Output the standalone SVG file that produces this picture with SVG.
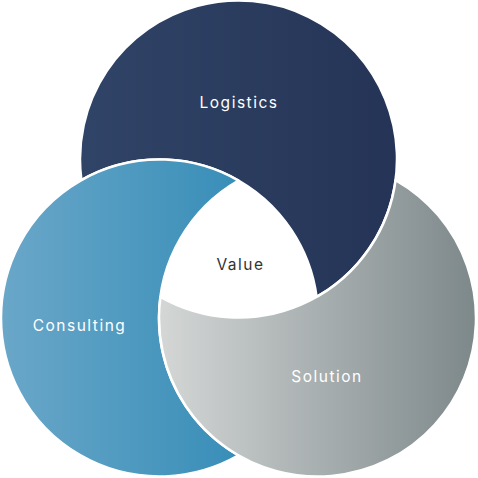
<svg xmlns="http://www.w3.org/2000/svg" width="478" height="478" viewBox="0 0 478 478">
  <defs>
    <linearGradient id="gL" x1="0" y1="0" x2="1" y2="0">
      <stop offset="0" stop-color="#304467"/>
      <stop offset="1" stop-color="#253456"/>
    </linearGradient>
    <linearGradient id="gC" x1="0" y1="0" x2="1" y2="0">
      <stop offset="0" stop-color="#6aa7c9"/>
      <stop offset="1" stop-color="#388eb8"/>
    </linearGradient>
    <linearGradient id="gS" x1="0" y1="0" x2="1" y2="0">
      <stop offset="0" stop-color="#d4d7d6"/>
      <stop offset="1" stop-color="#7d888a"/>
    </linearGradient>
  </defs>
  <style>
    .petal { stroke: #ffffff; stroke-width: 2.5; stroke-linejoin: round; }
    .lbl { font-family: Inter, "Noto Sans", "Liberation Sans", sans-serif; font-size: 15.5px; letter-spacing: 1.5px; text-anchor: middle; fill: #ffffff; }
    .dark { fill: #333333; }
  </style>
  <rect width="478" height="478" fill="#ffffff"/>
  <g id="logistics">
    <path class="petal" fill="url(#gL)" d="M 81.4 180.07 A 158.5 158.5 0 1 1 316.6 296.93 A 158.5 158.5 0 0 0 81.4 180.07 Z"/>
    <text class="lbl" x="239" y="108">Logistics</text>
  </g>
  <g id="consulting">
    <path class="petal" fill="url(#gC)" d="M 238.5 180.59 A 158.5 158.5 0 1 0 238.5 455.41 A 158.5 158.5 0 0 1 238.5 180.59 Z"/>
    <text class="lbl" x="79.5" y="331">Consulting</text>
  </g>
  <g id="solution">
    <path class="petal" fill="url(#gS)" d="M 395.6 180.07 A 158.5 158.5 0 1 1 160.4 296.93 A 158.5 158.5 0 0 0 395.6 180.07 Z"/>
    <text class="lbl" x="327" y="382">Solution</text>
  </g>
  <g id="value">
    <text class="lbl dark" x="240.5" y="270">Value</text>
  </g>
  <g id="connectors"/>
</svg>
